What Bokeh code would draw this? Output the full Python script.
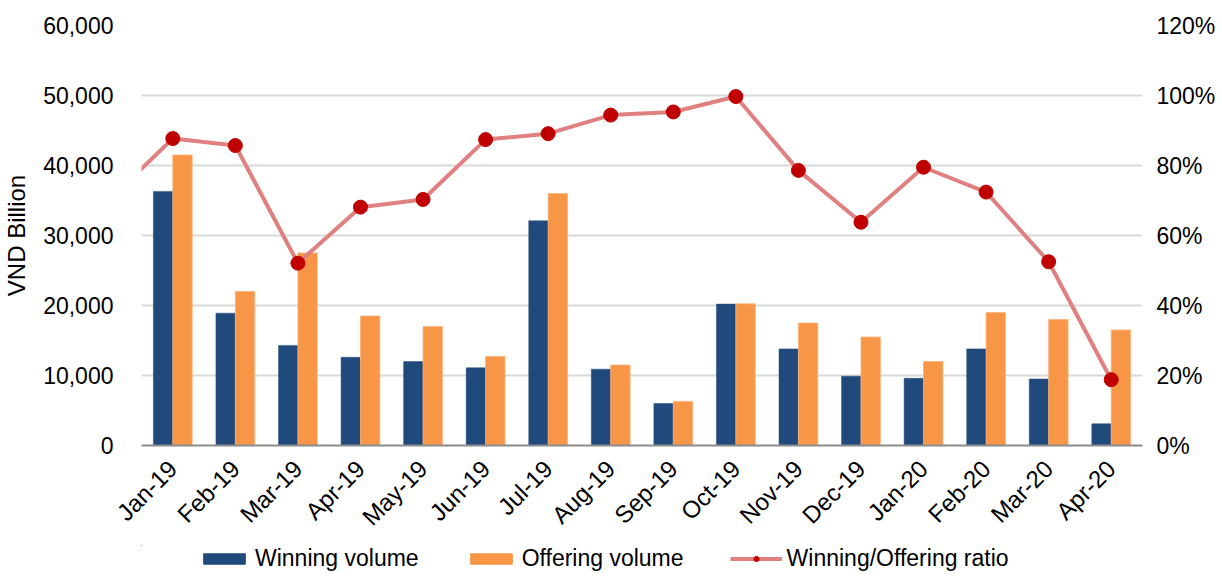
import math
from bokeh.plotting import figure
from bokeh.layouts import column
from bokeh.models import (Range1d, LinearAxis, FixedTicker, NumeralTickFormatter,
                          PrintfTickFormatter, Legend, LegendItem, ColumnDataSource)
from bokeh.transform import dodge
from bokeh.embed import file_html
from bokeh.resources import INLINE

months = ["Jan-19", "Feb-19", "Mar-19", "Apr-19", "May-19", "Jun-19", "Jul-19", "Aug-19",
          "Sep-19", "Oct-19", "Nov-19", "Dec-19", "Jan-20", "Feb-20", "Mar-20", "Apr-20"]
winning = [36300, 18900, 14300, 12600, 12000, 11100, 32100, 10900,
           6000, 20200, 13800, 9900, 9600, 13800, 9500, 3100]
offering = [41500, 22000, 27500, 18500, 17000, 12700, 36000, 11500,
            6300, 20250, 17500, 15500, 12000, 19000, 18000, 16500]
ratio = [87.7, 85.7, 52.1, 68.1, 70.3, 87.4, 89.1, 94.4,
         95.3, 99.7, 78.6, 63.8, 79.5, 72.4, 52.5, 18.8]
# previous month (Dec-18), only its segment into Jan-19 is visible
prev_ratio = 70.4

left_ticks = [0, 10000, 20000, 30000, 40000, 50000, 60000]
right_ticks = [0, 20, 40, 60, 80, 100, 120]
series_names = ["Winning volume", "Offering volume", "Winning/Offering ratio"]

NAVY = "#214A7C"
ORANGE = "#F79646"
LINE = "#E08080"
MARK = "#C00000"
FONT = "Liberation Sans"

idx = list(range(len(months)))
src = ColumnDataSource(dict(x=idx, win=winning, off=offering, ratio=ratio))

p = figure(frame_width=1001, frame_height=420, output_backend="svg", toolbar_location=None,
           x_range=Range1d(-0.5, len(months) - 0.5), y_range=Range1d(0, 60000),
           min_border_left=137, min_border_right=68, min_border_top=25, min_border_bottom=100)
p.outline_line_color = None
p.background_fill_color = "white"
p.extra_y_ranges = {"pct": Range1d(0, 120)}

p.vbar(x=dodge("x", -0.155, range=p.x_range), top="win", width=0.31, source=src,
       fill_color=NAVY, line_color=NAVY, line_width=0.5)
p.vbar(x=dodge("x", 0.155, range=p.x_range), top="off", width=0.31, source=src,
       fill_color=ORANGE, line_color="#FAB27A", line_width=0.8)
p.line(x=[-1] + idx, y=[prev_ratio] + ratio, y_range_name="pct",
       line_color=LINE, line_width=4, line_join="round")
p.scatter(x="x", y="ratio", source=src, y_range_name="pct", size=14,
          fill_color=MARK, line_color=MARK)

# grid
p.xgrid.grid_line_color = None
p.ygrid.ticker = FixedTicker(ticks=left_ticks)
p.ygrid.grid_line_color = "#D9D9D9"
p.ygrid.grid_line_width = 2

# x axis
xa = p.xaxis[0]
xa.ticker = FixedTicker(ticks=idx)
xa.major_label_overrides = {i: m for i, m in zip(idx, months)}
xa.major_label_orientation = math.pi / 4
xa.major_label_text_font = FONT
xa.major_label_text_font_size = "24px"
xa.major_label_text_color = "black"
xa.major_label_standoff = 13
xa.major_tick_line_color = None
xa.minor_tick_line_color = None
xa.axis_line_color = "#8C8C8C"
xa.axis_line_width = 2

# left axis
ya = p.yaxis[0]
ya.ticker = FixedTicker(ticks=left_ticks)
ya.formatter = NumeralTickFormatter(format="0,0")
ya.axis_label = "VND Billion"
ya.axis_label_text_font = FONT
ya.axis_label_text_font_size = "24px"
ya.axis_label_text_font_style = "normal"
ya.axis_label_text_color = "black"
ya.axis_label_standoff = 10
ya.major_label_text_font = FONT
ya.major_label_text_font_size = "23px"
ya.major_label_text_color = "black"
ya.major_label_standoff = 22
ya.major_tick_line_color = None
ya.minor_tick_line_color = None
ya.axis_line_color = None

# right axis
ra = LinearAxis(y_range_name="pct", ticker=FixedTicker(ticks=right_ticks),
                formatter=PrintfTickFormatter(format="%d%%"))
ra.major_label_text_font = FONT
ra.major_label_text_font_size = "23px"
ra.major_label_text_color = "black"
ra.major_label_standoff = 8
ra.major_tick_line_color = None
ra.minor_tick_line_color = None
ra.axis_line_color = None
p.add_layout(ra, "right")

# legend strip: a small figure (frame aligned with the main one) holding the
# same series, drawn outside its visible range so only the legend shows
lg = figure(width=1206, height=30, output_backend="svg", toolbar_location=None,
            x_range=Range1d(100, 101), y_range=Range1d(-1000, -999),
            min_border_left=0, min_border_right=0, min_border_top=0, min_border_bottom=0)
lg.axis.visible = False
lg.grid.grid_line_color = None
lg.outline_line_color = None
e_win = lg.vbar(x=idx, top=winning, width=0.31, fill_color=NAVY, line_color=NAVY)
e_off = lg.vbar(x=idx, top=offering, width=0.31, fill_color=ORANGE, line_color=ORANGE)
e_line = lg.line(x=idx, y=ratio, line_color=LINE, line_width=4)
e_pts = lg.scatter(x=idx, y=ratio, size=14, fill_color=MARK, line_color=MARK)

legend = Legend(items=[LegendItem(label=series_names[0], renderers=[e_win]),
                       LegendItem(label=series_names[1], renderers=[e_off]),
                       LegendItem(label=series_names[2], renderers=[e_line, e_pts])],
                orientation="horizontal", location=(57, 3),
                glyph_width=52, glyph_height=13, label_standoff=5, spacing=46,
                padding=0, margin=0, border_line_color=None, background_fill_alpha=0,
                label_text_font=FONT, label_text_font_size="23px", label_height=24,
                label_text_color="black")
lg.add_layout(legend, "center")

layout = column(p, lg, spacing=0)
open("out.html", "w").write(file_html(layout, INLINE))
